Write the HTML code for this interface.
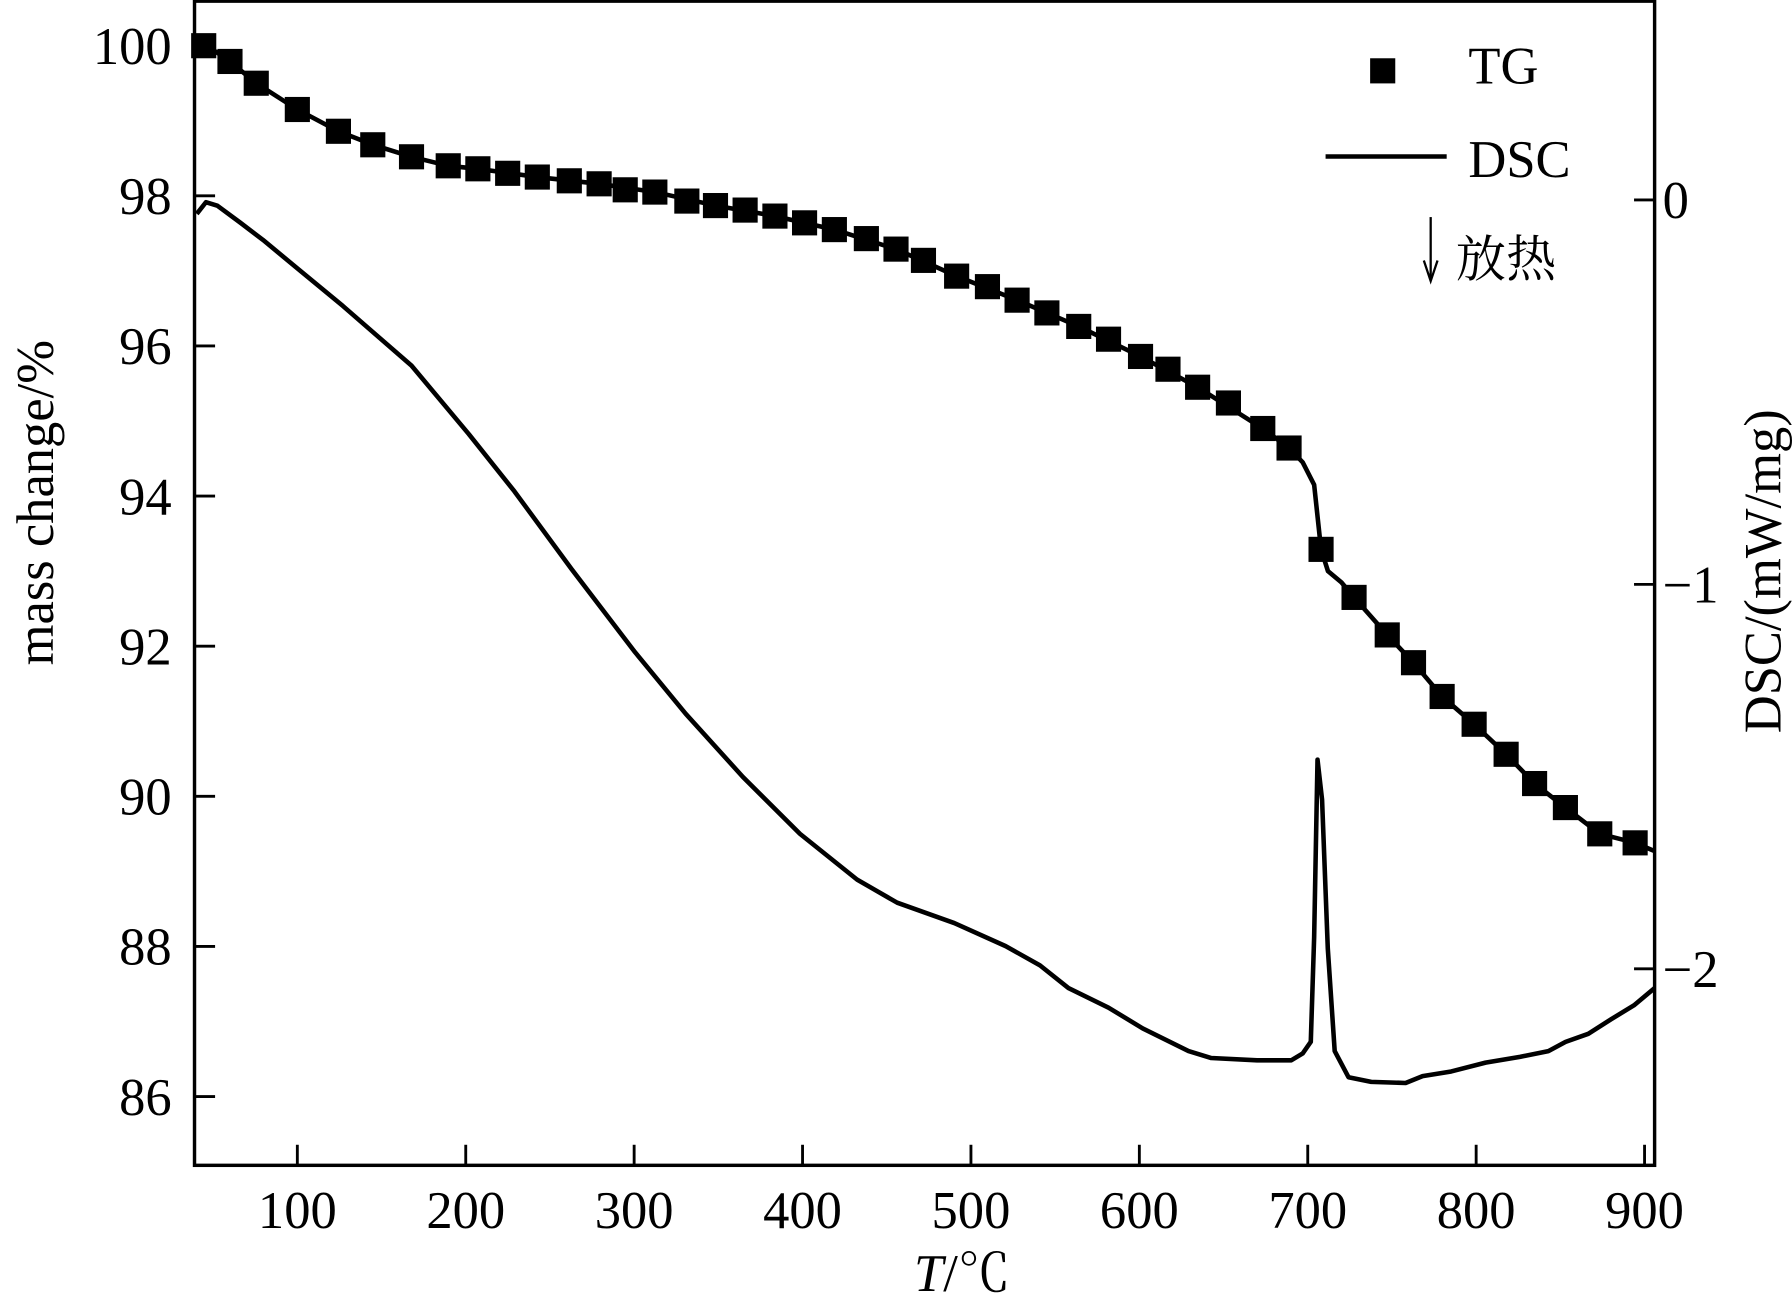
<!DOCTYPE html>
<html><head><meta charset="utf-8"><style>
html,body{margin:0;padding:0;background:#fff;}
svg{display:block;}
text{font-family:"Liberation Serif","Noto Serif CJK SC",serif;fill:#000;}
</style></head><body>
<svg id="chart" width="1792" height="1307" viewBox="0 0 1568 1144" xmlns="http://www.w3.org/2000/svg">
<g id="axes"></g>
<g id="series"></g>
<g>
  <rect x="1199" y="51" width="22" height="22" fill="#000"/>
  <text x="1285" y="73" font-size="46">TG</text>
  <line x1="1160" y1="137" x2="1266" y2="137" stroke="#000" stroke-width="4"/>
  <text x="1285" y="155" font-size="46">DSC</text>
  <line x1="1252" y1="190" x2="1252" y2="244" stroke="#000" stroke-width="2"/>
  <path d="M1246,228 L1252,246 L1258,228" fill="none" stroke="#000" stroke-width="2"/>
  <text x="1274" y="242" font-size="44">放热</text>
</g>
<text transform="translate(46,440) rotate(-90)" text-anchor="middle" font-size="46">mass change/%</text>
<text transform="translate(1558,500) rotate(-90)" text-anchor="middle" font-size="46">DSC/(mW/mg)</text>
<text x="842" y="1130" text-anchor="middle" font-size="46"><tspan font-style="italic">T</tspan>/℃</text>
</svg>
<script>
const xTicks=[100,200,300,400,500,600,700,800,900];
const yLeftTicks=[100,98,96,94,92,90,88,86];
const yRightTicks=[0,-1,-2];
const tgT=[44.4,60.0,75.6,100,124.4,144.8,167.8,189.6,207.2,224.9,242.5,261.5,279.2,294.7,312.3,331.3,348.3,365.9,383.6,401.2,418.9,437.9,455.5,471.8,491.5,509.8,527.4,545.1,564.0,581.7,600.7,617.0,634.6,652.9,673.3,688.9,707.9,727.5,747.2,762.8,779.8,798.8,817.8,834.7,853.0,873.4,894.4];
const tgMass=[100,99.79,99.50,99.15,98.86,98.68,98.52,98.40,98.36,98.30,98.25,98.20,98.16,98.08,98.05,97.93,97.87,97.81,97.73,97.64,97.55,97.43,97.29,97.14,96.93,96.79,96.61,96.44,96.26,96.09,95.86,95.69,95.45,95.24,94.90,94.64,93.29,92.65,92.15,91.78,91.33,90.96,90.56,90.17,89.85,89.50,89.38];
const tgLineT=[40,60,75.6,100,124.4,144.8,167.8,189.6,207.2,242.5,279.2,312.3,348.3,383.6,418.9,455.5,491.5,527.4,564.0,600.7,634.6,673.3,688.9,697,703.8,707.9,712,720,727.5,747.2,762.8,779.8,798.8,817.8,834.7,853.0,873.4,894.4,906];
const tgLineMass=[100.1,99.79,99.50,99.15,98.86,98.68,98.52,98.40,98.36,98.25,98.16,98.05,97.87,97.73,97.55,97.29,96.93,96.61,96.26,95.86,95.45,94.90,94.64,94.45,94.15,93.29,93.0,92.85,92.65,92.15,91.78,91.33,90.96,90.56,90.17,89.85,89.50,89.38,89.27];
const dscT=[40.3,45.7,52.5,66.1,79.6,100,127.1,167.8,201.8,228.9,262.8,300.1,330.7,364.6,398.5,432.4,456.2,490.1,520.6,541.0,557.9,581.7,602.0,629.2,642.7,669.9,690.2,697.0,701.8,703.8,705.8,708.5,711.9,716.0,724.2,737.7,758.1,768.2,785.2,805.6,826.0,842.9,853.1,866.6,880.2,893.7,906.0];
const dscVal=[-0.036,-0.006,-0.015,-0.059,-0.104,-0.178,-0.276,-0.431,-0.609,-0.758,-0.960,-1.174,-1.337,-1.501,-1.649,-1.768,-1.828,-1.881,-1.941,-1.991,-2.050,-2.101,-2.155,-2.214,-2.232,-2.238,-2.238,-2.220,-2.190,-1.917,-1.456,-1.560,-1.947,-2.214,-2.282,-2.294,-2.297,-2.279,-2.267,-2.244,-2.229,-2.214,-2.190,-2.169,-2.131,-2.095,-2.050];

const L=170,R=1448,T=0,B=1020;
const xs=t=>260+(t-100)*1.474;
const yl=m=>40+(100-m)*65.7;
const yr=d=>175-d*336.5;
const NS='http://www.w3.org/2000/svg';
function mk(tag,attrs,parent){const e=document.createElementNS(NS,tag);for(const k in attrs)e.setAttribute(k,attrs[k]);parent.appendChild(e);return e;}
const ax=document.getElementById('axes'), se=document.getElementById('series');
const frame=mk('rect',{x:L,y:T+1,width:R-L,height:B-T-1,fill:'none',stroke:'#000','stroke-width':3},ax);


xTicks.forEach(v=>{
  const x=xs(v);
  const tk=mk('line',{x1:x,y1:B,x2:x,y2:B-18,stroke:'#000','stroke-width':2.5},ax);
  
  
  const t=mk('text',{x:x,y:1075,'text-anchor':'middle','font-size':46},ax);
  
  
  t.textContent=v;
});
yLeftTicks.forEach(v=>{
  const y=yl(v);
  const tk=mk('line',{x1:L,y1:y,x2:L+18,y2:y,stroke:'#000','stroke-width':2.5},ax);
  
  
  const t=mk('text',{x:150,y:y+16,'text-anchor':'end','font-size':46},ax);
  
  
  t.textContent=v;
});
yRightTicks.forEach(v=>{
  const y=yr(v);
  const tk=mk('line',{x1:R,y1:y,x2:R-18,y2:y,stroke:'#000','stroke-width':2.5},ax);
  
  
  const t=mk('text',{x:1455,y:y+16,'text-anchor':'start','font-size':46},ax);
  
  
  t.textContent=v<0?'\u2212'+Math.abs(v):String(v);
});
const cp=mk('clipPath',{id:'clip'},se);
mk('rect',{x:L,y:T,width:R-L,height:B-T},cp);
const dsc=mk('polyline',{points:dscT.map((t,i)=>xs(t)+','+yr(dscVal[i])).join(' '),fill:'none',stroke:'#000','stroke-width':4,'stroke-linejoin':'round','clip-path':'url(#clip)'},se);


const tgl=mk('polyline',{points:tgLineT.map((t,i)=>xs(t)+','+yl(tgLineMass[i])).join(' '),fill:'none',stroke:'#000','stroke-width':4,'stroke-linejoin':'round','clip-path':'url(#clip)'},se);


tgT.forEach((t,i)=>{
  const s=mk('rect',{x:xs(t)-11,y:yl(tgMass[i])-11,width:22,height:22,fill:'#000'},se);
  
  
});
</script>
</body></html>
